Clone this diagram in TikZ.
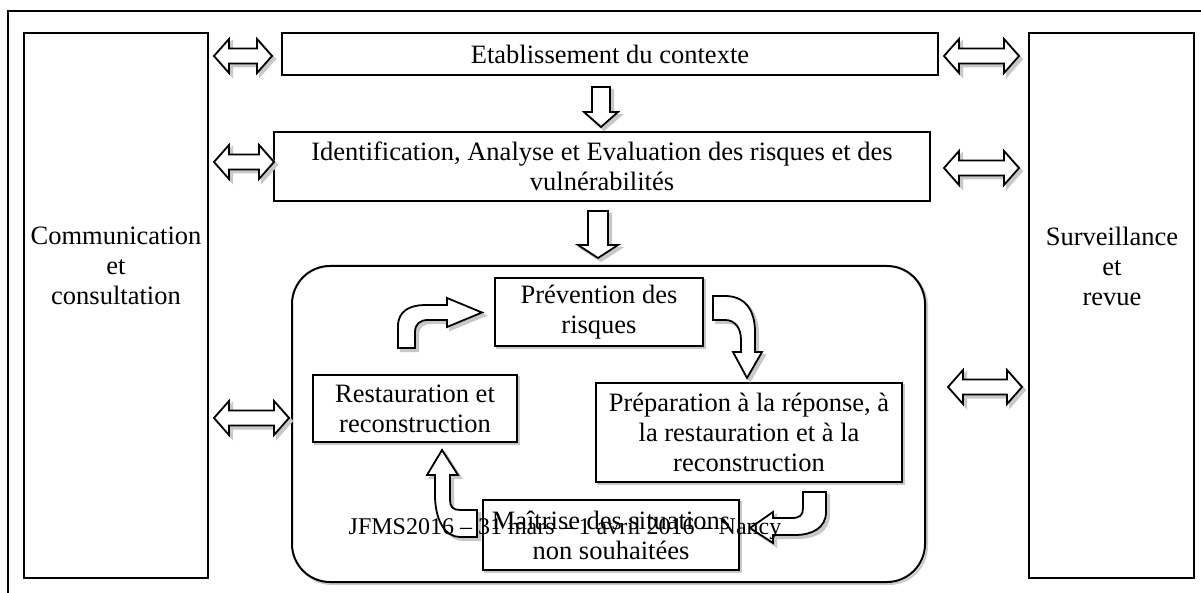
\documentclass[tikz,border=0pt]{standalone}
\usepackage{fontspec}
\setmainfont{Liberation Serif}
\usetikzlibrary{calc}
\definecolor{shadowgray}{RGB}{200,200,200}
\newcommand\dblarr[3]{%
  \draw[blockarrow] (#1,#3) -- (#1+15,#3-17) -- (#1+15,#3-7.5) -- (#2-15,#3-7.5) -- (#2-15,#3-17)
    -- (#2,#3) -- (#2-15,#3+17) -- (#2-15,#3+7.5) -- (#1+15,#3+7.5) -- (#1+15,#3+17) -- cycle;}
\begin{document}
\begin{tikzpicture}[x=1pt,y=-1pt,
  every node/.style={font=\fontsize{26.5}{30}\selectfont, align=center},
  box/.style={draw, line width=2pt, fill=white, inner sep=0pt},
  sbox/.style={box, preaction={draw=shadowgray, line width=2pt, transform canvas={shift={(2pt,-2pt)}}}},
  blockarrow/.style={draw, line width=1.8pt, fill=white, line join=miter,
    preaction={draw=shadowgray, fill=shadowgray, line width=2pt, transform canvas={shift={(3pt,-3pt)}}}},
  txt/.style={inner sep=0pt}]
\useasboundingbox (0,0) rectangle (1201,593);
\draw[line width=2pt] (8,593) -- (8,11) -- (1201,11);

% side boxes
\node[box, minimum width=184, minimum height=545] (comm) at (116,305.5) {};
\node[txt] (commtxt) at (116,266) {Communication\\et\\consultation};
\node[box, minimum width=165, minimum height=545] (surv) at (1111.5,305.5) {};
\node[txt] (survtxt) at (1112,266) {Surveillance\\et\\revue};

% top boxes
\node[box, minimum width=656, minimum height=42] (etab) at (610,54) {Etablissement du contexte};
\node[box, minimum width=656, minimum height=69] (ident) at (602,166.5)
  {Identification, Analyse et Evaluation des risques et des\\vulnérabilités};

% rounded container
\node[sbox, rounded corners=38pt, minimum width=633, minimum height=316] (mgmt) at (608.5,424) {};

% inner boxes
\node[sbox, minimum width=208, minimum height=68] (prev) at (599,312) {Prévention des\\risques};
\node[sbox, minimum width=306, minimum height=99] (prep) at (749,432.5)
  {Préparation à la réponse, à\\la restauration et à la\\reconstruction};
\node[sbox, minimum width=204, minimum height=67] (rest) at (415,408.5) {Restauration et\\reconstruction};
\node[sbox, minimum width=256, minimum height=70] (mait) at (611,535) {Maîtrise des situations\\non souhaitées};

% down arrows
\draw[blockarrow] (592,87) -- (610,87) -- (610,112) -- (618,112) -- (601,127) -- (584,112) -- (592,112) -- cycle;
\draw[blockarrow] (588,211) -- (608,211) -- (608,245) -- (618,245) -- (598,258) -- (578,245) -- (588,245) -- cycle;

% double arrows
\dblarr{214}{272}{56}
\dblarr{214}{274}{162}
\dblarr{214}{289}{418}
\dblarr{944}{1019}{56}
\dblarr{944}{1019}{168}
\dblarr{948}{1022}{387}

% bent arrows of the cycle
\draw[blockarrow] (398,348) -- (398,326) .. controls (398,311) and (410,305) .. (425,305) -- (447,305)
  -- (447,298) -- (482,312.5) -- (447,327) -- (447,320) -- (428,320)
  .. controls (420,320) and (415,324) .. (415,332) -- (415,348) -- cycle;
\draw[blockarrow] (713,296) -- (725,296) .. controls (745,296) and (755,310) .. (755,332) -- (755,352)
  -- (762,352) -- (747,378) -- (733,352) -- (741,352) -- (741,340)
  .. controls (741,328) and (735,320) .. (725,320) -- (713,320) -- cycle;
\draw[blockarrow] (803,492) -- (826,492) -- (826,512) .. controls (826,528) and (812,535) .. (795,535)
  -- (773,535) -- (773,543) -- (750,528) -- (773,512) -- (773,518) -- (792,518)
  .. controls (800,518) and (803,515) .. (803,508) -- cycle;
\draw[blockarrow] (477,510) -- (477,537) -- (460,537) .. controls (445,537) and (435,520) .. (435,495)
  -- (435,475) -- (427,475) -- (442,450) -- (458,475) -- (450,475) -- (450,500)
  .. controls (450,507) and (453,510) .. (460,510) -- cycle;

% footer text overlapping
\node[txt, font=\fontsize{24}{28}\selectfont] (foot) at (565,529) {JFMS2016 – 31 mars – 1 avril 2016 – Nancy};
\end{tikzpicture}
\end{document}
